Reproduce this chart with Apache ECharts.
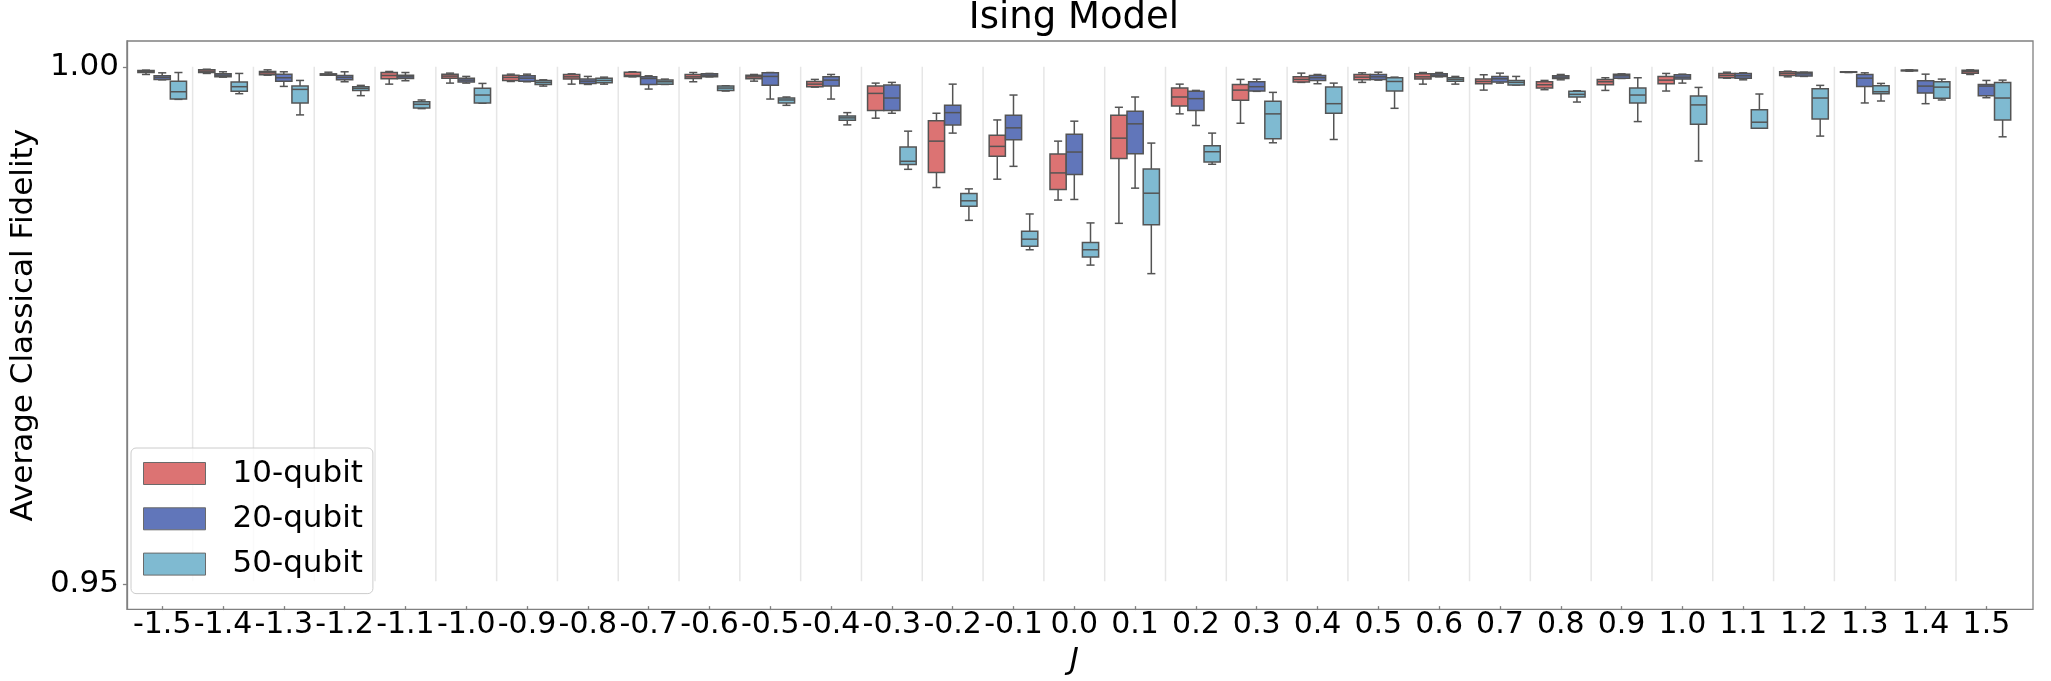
<!DOCTYPE html>
<html>
<head>
    <meta charset="utf-8">
    <title>Ising Model</title>
    <script src="https://cdn.jsdelivr.net/npm/echarts@6/dist/echarts.min.js"></script>
    <style>
        html, body { margin: 0; padding: 0; background: #fff; }
    </style>
</head>
<body>
    <div id="container" style="width: 2051px;height:681px;"></div>
    <script type="text/javascript">
        // J values on the x axis
        var categories = ['-1.5','-1.4','-1.3','-1.2','-1.1','-1.0','-0.9','-0.8','-0.7','-0.6','-0.5','-0.4','-0.3','-0.2','-0.1','0.0',
                          '0.1','0.2','0.3','0.4','0.5','0.6','0.7','0.8','0.9','1.0','1.1','1.2','1.3','1.4','1.5'];
        var seriesNames = ['10-qubit', '20-qubit', '50-qubit'];
        var seriesColors = ['#DC7373', '#6176BA', '#7FBAD1'];
        var yTicks = [0.95, 1.00];

        // each row: [lower whisker, Q1, median, Q3, upper whisker]
        var q10 = [
            [0.99926,0.99945,0.99955,0.99965,0.99968],
            [0.99936,0.99945,0.99958,0.99971,0.99977],
            [0.99919,0.99923,0.99942,0.99955,0.99971],
            [0.99919,0.99919,0.99926,0.99932,0.99948],
            [0.99832,0.99884,0.99916,0.99945,0.99955],
            [0.99842,0.99890,0.99910,0.99929,0.99939],
            [0.99858,0.99868,0.99897,0.99919,0.99929],
            [0.99832,0.99881,0.99903,0.99926,0.99932],
            [0.99903,0.99907,0.99916,0.99948,0.99952],
            [0.99855,0.99887,0.99903,0.99926,0.99945],
            [0.99861,0.99884,0.99903,0.99919,0.99926],
            [0.99803,0.99807,0.99832,0.99858,0.99878],
            [0.99501,0.99575,0.99742,0.99813,0.99842],
            [0.98827,0.98972,0.99278,0.99475,0.99549],
            [0.98908,0.99130,0.99227,0.99336,0.99484],
            [0.98705,0.98808,0.98969,0.99153,0.99278],
            [0.98479,0.99108,0.99307,0.99530,0.99607],
            [0.99543,0.99620,0.99707,0.99794,0.99832],
            [0.99452,0.99675,0.99774,0.99829,0.99878],
            [0.99849,0.99852,0.99878,0.99903,0.99939],
            [0.99849,0.99874,0.99900,0.99926,0.99942],
            [0.99832,0.99881,0.99903,0.99932,0.99945],
            [0.99774,0.99836,0.99858,0.99881,0.99923],
            [0.99778,0.99794,0.99826,0.99855,0.99868],
            [0.99771,0.99826,0.99855,0.99878,0.99894],
            [0.99765,0.99836,0.99871,0.99907,0.99936],
            [0.99890,0.99894,0.99916,0.99936,0.99948],
            [0.99903,0.99916,0.99936,0.99952,0.99958],
            [0.99945,0.99948,0.99948,0.99952,0.99952],
            [0.99958,0.99961,0.99965,0.99968,0.99971],
            [0.99926,0.99939,0.99955,0.99968,0.99971]
        ];
        var q20 = [
            [0.99874,0.99878,0.99897,0.99913,0.99942],
            [0.99900,0.99903,0.99919,0.99932,0.99952],
            [0.99810,0.99861,0.99894,0.99929,0.99952],
            [0.99855,0.99874,0.99897,0.99916,0.99952],
            [0.99865,0.99887,0.99903,0.99919,0.99945],
            [0.99842,0.99852,0.99871,0.99890,0.99907],
            [0.99855,0.99861,0.99890,0.99913,0.99929],
            [0.99829,0.99839,0.99861,0.99881,0.99907],
            [0.99784,0.99829,0.99887,0.99903,0.99913],
            [0.99903,0.99903,0.99919,0.99932,0.99936],
            [0.99687,0.99820,0.99907,0.99942,0.99945],
            [0.99687,0.99813,0.99871,0.99903,0.99926],
            [0.99549,0.99575,0.99697,0.99823,0.99849],
            [0.99356,0.99436,0.99555,0.99626,0.99832],
            [0.99033,0.99291,0.99407,0.99530,0.99726],
            [0.98711,0.98953,0.99172,0.99346,0.99472],
            [0.98821,0.99156,0.99446,0.99568,0.99707],
            [0.99430,0.99575,0.99691,0.99762,0.99771],
            [0.99762,0.99765,0.99807,0.99855,0.99881],
            [0.99836,0.99868,0.99894,0.99916,0.99926],
            [0.99871,0.99878,0.99903,0.99926,0.99948],
            [0.99903,0.99907,0.99919,0.99932,0.99945],
            [0.99842,0.99852,0.99884,0.99907,0.99939],
            [0.99874,0.99887,0.99900,0.99913,0.99926],
            [0.99887,0.99890,0.99913,0.99929,0.99932],
            [0.99842,0.99881,0.99900,0.99923,0.99929],
            [0.99874,0.99890,0.99913,0.99936,0.99942],
            [0.99907,0.99910,0.99932,0.99948,0.99948],
            [0.99649,0.99810,0.99890,0.99926,0.99942],
            [0.99642,0.99745,0.99813,0.99865,0.99929],
            [0.99700,0.99720,0.99813,0.99829,0.99868]
        ];
        var q50 = [
            [0.99684,0.99687,0.99758,0.99861,0.99945],
            [0.99739,0.99762,0.99807,0.99852,0.99936],
            [0.99533,0.99649,0.99781,0.99813,0.99868],
            [0.99720,0.99771,0.99791,0.99807,0.99820],
            [0.99594,0.99601,0.99636,0.99662,0.99678],
            [0.99646,0.99649,0.99726,0.99791,0.99839],
            [0.99813,0.99829,0.99849,0.99868,0.99874],
            [0.99832,0.99845,0.99868,0.99890,0.99900],
            [0.99829,0.99832,0.99855,0.99871,0.99881],
            [0.99765,0.99771,0.99794,0.99813,0.99816],
            [0.99626,0.99649,0.99678,0.99697,0.99707],
            [0.99436,0.99481,0.99504,0.99523,0.99555],
            [0.99004,0.99050,0.99082,0.99220,0.99375],
            [0.98508,0.98644,0.98698,0.98769,0.98814],
            [0.98222,0.98257,0.98325,0.98402,0.98570],
            [0.98073,0.98151,0.98222,0.98292,0.98483],
            [0.97990,0.98466,0.98772,0.99008,0.99259],
            [0.99053,0.99075,0.99175,0.99233,0.99356],
            [0.99262,0.99301,0.99543,0.99665,0.99752],
            [0.99294,0.99549,0.99642,0.99803,0.99842],
            [0.99597,0.99765,0.99858,0.99894,0.99900],
            [0.99832,0.99861,0.99878,0.99894,0.99907],
            [0.99823,0.99823,0.99849,0.99868,0.99907],
            [0.99658,0.99707,0.99733,0.99762,0.99768],
            [0.99468,0.99649,0.99726,0.99794,0.99894],
            [0.99085,0.99443,0.99630,0.99716,0.99800],
            [0.99404,0.99404,0.99462,0.99584,0.99736],
            [0.99327,0.99494,0.99697,0.99787,0.99820],
            [0.99668,0.99739,0.99758,0.99816,0.99839],
            [0.99678,0.99694,0.99803,0.99855,0.99881],
            [0.99320,0.99484,0.99697,0.99849,0.99871]
        ];
        var allData = [q10, q20, q50];

        var FONT = 'DejaVu Sans';
        var EDGE = '#545454';
        var FRAME = '#808080';
        var Y_MIN = 0.947584, Y_MAX = 1.002513;

        var myChart = echarts.init(document.getElementById('container'));

        // 把箱线图画成自定义系列，三个分组并排放在一个类目里
        function boxRender(h) {
            return function (params, api) {
                var i = api.value(0);
                var band = api.size([1, 0])[0];
                var w = band * 0.8 / 3;
                var cx = api.coord([i, api.value(3)])[0] + (h - 1) * w;
                var yMin = api.coord([i, api.value(1)])[1];
                var yQ1 = api.coord([i, api.value(2)])[1];
                var yMed = api.coord([i, api.value(3)])[1];
                var yQ3 = api.coord([i, api.value(4)])[1];
                var yMax = api.coord([i, api.value(5)])[1];
                var ls = { stroke: EDGE, lineWidth: 1.5 };
                return {
                    type: 'group',
                    children: [
                        { type: 'line', shape: { x1: cx, y1: yQ3, x2: cx, y2: yMax }, style: ls },
                        { type: 'line', shape: { x1: cx, y1: yQ1, x2: cx, y2: yMin }, style: ls },
                        { type: 'line', shape: { x1: cx - w / 4, y1: yMax, x2: cx + w / 4, y2: yMax }, style: ls },
                        { type: 'line', shape: { x1: cx - w / 4, y1: yMin, x2: cx + w / 4, y2: yMin }, style: ls },
                        { type: 'rect', shape: { x: cx - w / 2, y: yQ3, width: w, height: Math.max(yQ1 - yQ3, 0.5) },
                          style: { fill: seriesColors[h], stroke: EDGE, lineWidth: 1.5 } },
                        { type: 'line', shape: { x1: cx - w / 2, y1: yMed, x2: cx + w / 2, y2: yMed }, style: ls }
                    ]
                };
            };
        }

        // light separators between the J groups
        var sepData = [];
        for (var k = 0; k < categories.length - 1; k++) {
            sepData.push([k, yTicks[1], yTicks[0]]);
        }

        var series = [{
            name: 'sep',
            type: 'custom',
            xAxisIndex: 0,
            yAxisIndex: 0,
            silent: true,
            z: 1,
            data: sepData,
            encode: { x: 0, y: [1, 2] },
            renderItem: function (params, api) {
                var band = api.size([1, 0])[0];
                var p1 = api.coord([api.value(0), api.value(1)]);
                var p2 = api.coord([api.value(0), api.value(2)]);
                return {
                    type: 'line',
                    shape: { x1: p1[0] + band / 2, y1: p1[1], x2: p2[0] + band / 2, y2: p2[1] },
                    style: { stroke: '#e6e6e6', lineWidth: 1.5 }
                };
            }
        }];

        seriesNames.forEach(function (name, h) {
            series.push({
                name: name,
                type: 'custom',
                xAxisIndex: 0,
                yAxisIndex: 0,
                z: 3,
                itemStyle: { color: seriesColors[h] },
                data: allData[h].map(function (row, i) { return [i].concat(row); }),
                encode: { x: 0, y: [1, 2, 3, 4, 5] },
                renderItem: boxRender(h)
            });
        });

        var option = {
            animation: false,
            backgroundColor: '#fff',
            title: {
                text: 'Ising Model',
                left: 1074,
                textAlign: 'center',
                top: 0,
                padding: 0,
                textStyle: { fontFamily: FONT, fontSize: 37, fontWeight: 'normal', color: '#000' }
            },
            legend: {
                orient: 'vertical',
                left: 131,
                top: 448,
                padding: [10, 10, 14, 12],
                itemGap: 14.3,
                itemWidth: 62,
                itemHeight: 22,
                borderColor: '#cccccc',
                borderWidth: 1,
                borderRadius: 5,
                backgroundColor: 'rgba(255,255,255,0.8)',
                z: 10,
                data: seriesNames.map(function (n, h) {
                    return { name: n, icon: 'rect',
                             itemStyle: { color: seriesColors[h], borderColor: '#6a6a6a', borderWidth: 1 } };
                }),
                textStyle: { fontFamily: FONT, fontSize: 31, lineHeight: 31, color: '#000', padding: [0, 0, 0, 22] }
            },
            grid: [
                { left: 131.8, right: 34.2, top: 41, bottom: 71.7, show: false },
                { left: 115.7, right: 18, top: 41, bottom: 71.7, show: true,
                  borderColor: FRAME, borderWidth: 1.3, backgroundColor: 'transparent' }
            ],
            xAxis: [
                {
                    type: 'category',
                    gridIndex: 0,
                    data: categories,
                    boundaryGap: true,
                    axisLine: { show: false },
                    axisTick: { show: true, alignWithLabel: true, length: 4, lineStyle: { color: FRAME, width: 1.3 } },
                    axisLabel: { interval: 0, hideOverlap: false, margin: 4, fontFamily: FONT, fontSize: 30, color: '#000' },
                    splitLine: { show: false },
                    name: 'J',
                    nameLocation: 'middle',
                    nameGap: 38,
                    nameTextStyle: { fontFamily: FONT, fontSize: 31, fontStyle: 'italic', color: '#000' }
                },
                { type: 'value', gridIndex: 1, show: false, min: 0, max: 1 }
            ],
            yAxis: [
                { type: 'value', gridIndex: 0, min: Y_MIN, max: Y_MAX, show: false, splitLine: { show: false } },
                {
                    type: 'value',
                    gridIndex: 1,
                    min: Y_MIN,
                    max: Y_MAX,
                    axisLine: { show: true, lineStyle: { color: FRAME, width: 1.3 } },
                    axisTick: { show: true, length: 4, customValues: yTicks, lineStyle: { color: FRAME, width: 1.3 } },
                    axisLabel: {
                        customValues: yTicks,
                        margin: 8,
                        fontFamily: FONT,
                        fontSize: 31,
                        color: '#000',
                        formatter: function (v) { return v.toFixed(2); }
                    },
                    splitLine: { show: false },
                    name: 'Average Classical Fidelity',
                    nameLocation: 'middle',
                    nameGap: 78,
                    nameTextStyle: { fontFamily: FONT, fontSize: 31, color: '#000' }
                }
            ],
            series: series
        };

        myChart.setOption(option);
    </script>
</body>
</html>
